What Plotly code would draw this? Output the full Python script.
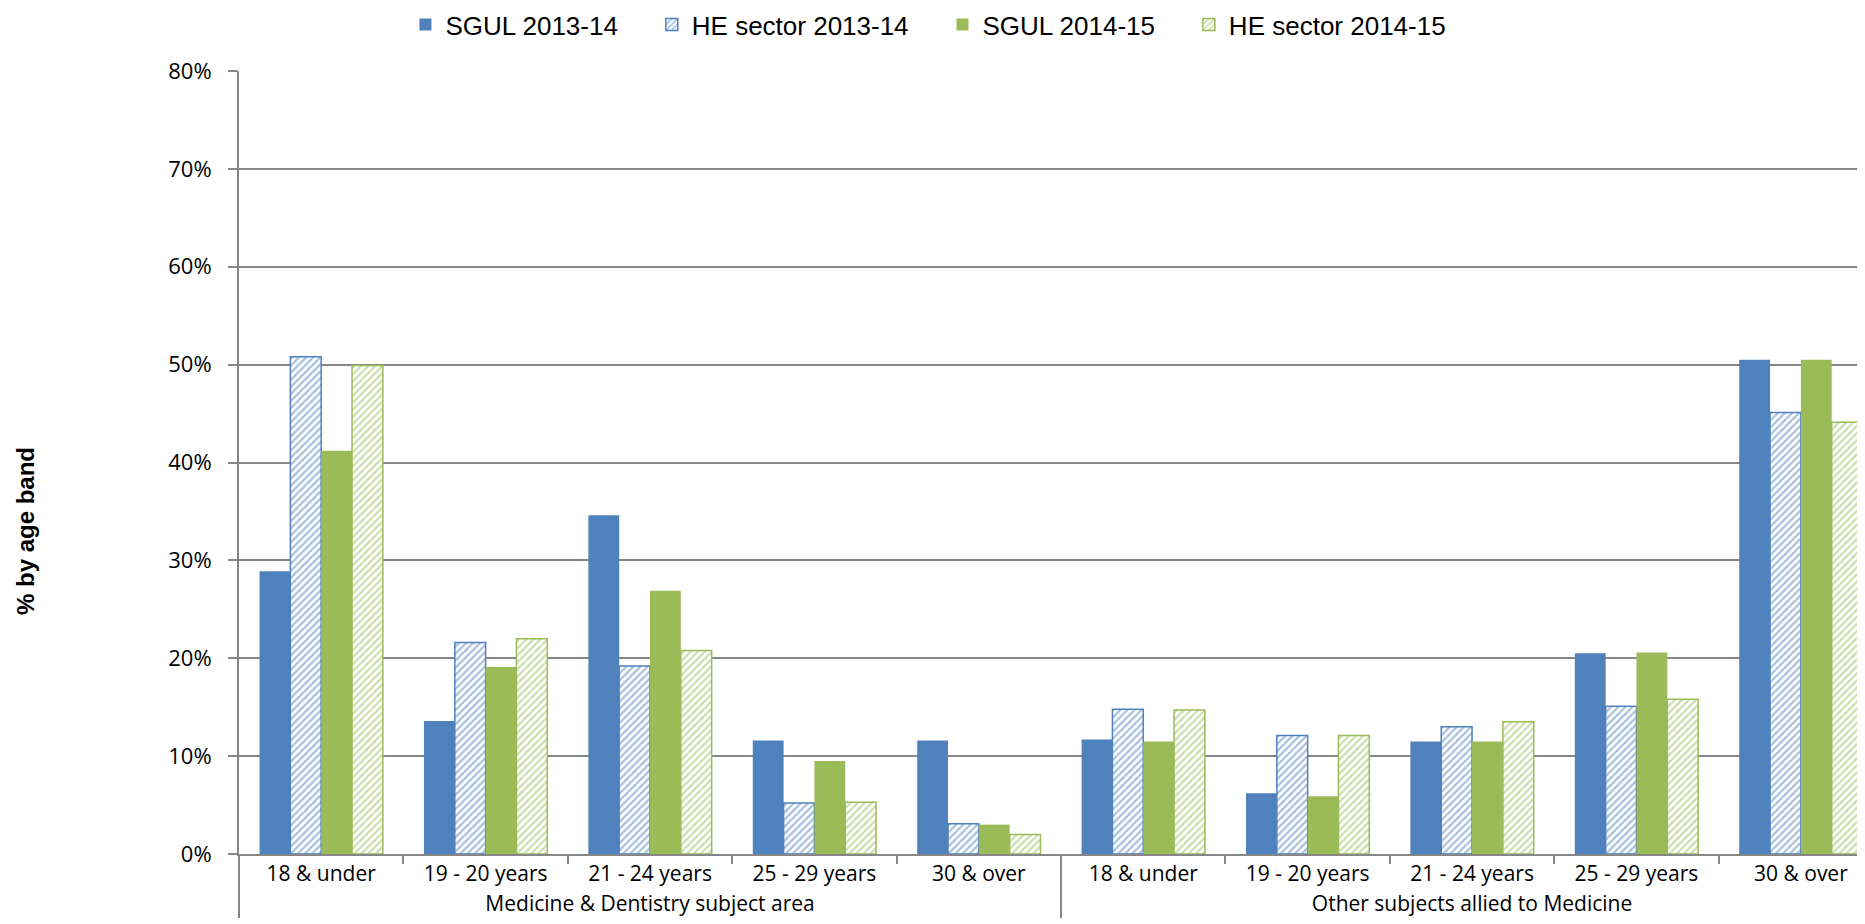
import plotly.graph_objects as go

groups = ["Medicine & Dentistry subject area"] * 5 + ["Other subjects allied to Medicine"] * 5
ages = ["18 & under", "19 - 20 years", "21 - 24 years", "25 - 29 years", "30 & over"] * 2

sgul_1314 = [28.9, 13.6, 34.6, 11.6, 11.6, 11.7, 6.2, 11.5, 20.5, 50.5]
he_1314 = [50.8, 21.6, 19.2, 5.2, 3.1, 14.8, 12.1, 13.0, 15.1, 45.1]
sgul_1415 = [41.2, 19.1, 26.9, 9.5, 3.0, 11.5, 5.9, 11.5, 20.6, 50.5]
he_1415 = [49.9, 22.0, 20.8, 5.3, 2.0, 14.7, 12.1, 13.5, 15.8, 44.1]

series_names = ["SGUL 2013-14", "HE sector 2013-14", "SGUL 2014-15", "HE sector 2014-15"]
series_values = [sgul_1314, he_1314, sgul_1415, he_1415]
series_colors = ["#4F81BD", "#4F81BD", "#9BBB59", "#9BBB59"]
series_hatched = [False, True, False, True]

fig = go.Figure()
for i, (name, vals, col, hatched) in enumerate(zip(series_names, series_values, series_colors, series_hatched)):
    y = [v / 100 for v in vals]
    if hatched:
        marker = dict(color="white", line=dict(color=col, width=1.5),
                      pattern=dict(shape="/", fgcolor=col, bgcolor="white", size=5, solidity=0.45))
    else:
        marker = dict(color=col, line=dict(width=0))
    pad = "\u00a0" * 4 if i < len(series_names) - 1 else ""
    fig.add_trace(go.Bar(x=[groups, ages], y=y, name=name + pad, marker=marker))

grid = "#868686"
fig.update_layout(
    width=1857, height=916,
    margin=dict(l=231, r=0, t=63, b=70),
    paper_bgcolor="white", plot_bgcolor="white",
    barmode="group", bargap=0.25, bargroupgap=0,
    font=dict(family="Open Sans", size=21, color="black"),
    showlegend=True,
    legend=dict(orientation="h", x=0.424, xanchor="center", yref="container", y=0.982, yanchor="middle",
                font=dict(family="Liberation Sans, Arial", size=26, color="black"),
                traceorder="normal"),
    annotations=[dict(text="<b>% by age band</b>", textangle=-90, xref="paper", yref="paper",
                      x=-0.1316, y=0.4125, xanchor="center", yanchor="middle", showarrow=False,
                      font=dict(family="Liberation Sans, Arial", size=24, color="black"))],
)
fig.update_yaxes(range=[0, 0.8], dtick=0.1, tickformat=".0%", showgrid=True, gridcolor=grid, gridwidth=2,
                 showline=True, linecolor=grid, linewidth=2, ticks="outside", ticklen=9, tickcolor=grid,
                 tickwidth=2, tickfont=dict(family="Open Sans", size=22), zeroline=False,
                 ticklabelstandoff=12)
fig.update_xaxes(type="multicategory", range=[-0.5, 9.39], showline=True, linecolor=grid, linewidth=2,
                 ticks="outside", tickson="boundaries", ticklen=8, tickcolor=grid, tickwidth=2,
                 showdividers=True, dividercolor=grid, dividerwidth=2,
                 tickfont=dict(family="Open Sans", size=21))

fig.write_html("out.html")
